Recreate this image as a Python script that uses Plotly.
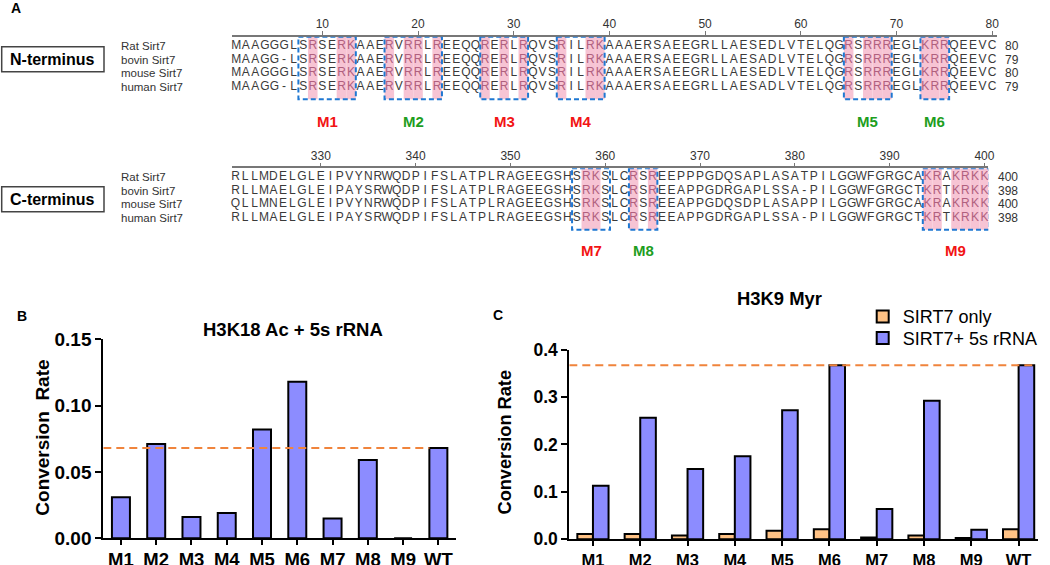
import plotly.graph_objects as go

# ---------------- data ----------------
species = ["Rat Sirt7", "bovin Sirt7", "mouse Sirt7", "human Sirt7"]

n_seqs = [
    "MAAGGGLSRSERKAAERVRRLREEQQRERLRQVSRILRKAAAERSAEEGRLLAESEDLVTELQGRSRRREGLKRRQEEVC",
    "MAAGG-LSRSERKAAERVRRLREEQQRERLRQVSRILRKAAAERSAEEGRLLAESADLVTELQGRSRRREGLKRRQEEVC",
    "MAAGGGLSRSERKAAERVRRLREEQQRERLRQVSRILRKAAAERSAEEGRLLAESEDLVTELQGRSRRREGLKRRQEEVC",
    "MAAGG-LSRSERKAAERVRRLREEQQRERLRQVSRILRKAAAERSAEEGRLLAESADLVTELQGRSRRREGLKRRQEEVC",
]
n_end_numbers = [80, 79, 80, 79]
n_first_residue = 1
n_ruler_ticks = [10, 20, 30, 40, 50, 60, 70, 80]
n_pink = [9, 12, 13, 17, 19, 20, 22, 27, 29, 31, 35, 38, 39, 65, 67, 68, 69, 73, 74, 75]

c_seqs = [
    "RLLMDELGLEIPVYNRWQDPIFSLATPLRAGEEGSHSRKSLCRSREEPPPGDQSAPLASATPILGGWFGRGCAKRAKRKK",
    "RLLMAELGLEIPAYSRWQDPIFSLATPLRAGEEGSHSRKSLCRSREEAPPGDRGAPLSSA-PILGGWFGRGCTKRTKRKK",
    "QLLMNELGLEIPVYNRWQDPIFSLATPLRAGEEGSHSRKSLCRSREEAPPGDQSDPLASAPPILGGWFGRGCAKRAKRKK",
    "RLLMAELGLEIPAYSRWQDPIFSLATPLRAGEEGSHSRKSLCRSREEAPPGDRGAPLSSA-PILGGWFGRGCTKRTKRKK",
]
c_end_numbers = [400, 398, 400, 398]
c_first_residue = 321
c_ruler_ticks = [330, 340, 350, 360, 370, 380, 390, 400]
c_pink = [358, 359, 363, 365, 394, 395, 397, 398, 399, 400]

motif_names = ["M1", "M2", "M3", "M4", "M5", "M6", "M7", "M8", "M9"]
motif_start = [8, 17, 27, 35, 65, 73, 357, 363, 394]
motif_end = [13, 22, 31, 39, 69, 75, 360, 365, 400]
motif_group = ["red", "green", "red", "red", "green", "green", "red", "green", "red"]
motif_panel = ["N", "N", "N", "N", "N", "N", "C", "C", "C"]

categories = ["M1", "M2", "M3", "M4", "M5", "M6", "M7", "M8", "M9", "WT"]
h3k18_rrna = [0.031, 0.071, 0.016, 0.019, 0.082, 0.118, 0.015, 0.059, 0.0, 0.068]
h3k9_only = [0.011, 0.011, 0.008, 0.011, 0.018, 0.021, 0.004, 0.008, 0.003, 0.021]
h3k9_rrna = [0.113, 0.256, 0.148, 0.175, 0.272, 0.367, 0.064, 0.292, 0.020, 0.367]

for s in n_seqs + c_seqs:
    assert len(s) == 80, (s, len(s))

# ---------------- style ----------------
W, H = 1050, 565
FONT = "Arial, Liberation Sans, sans-serif"
SEQ_TXT = "#3a3a3a"
PINK_TXT = "#b0607e"
PINK_BG = "#f7c4d4"
BOX_BLUE = "#1f78d2"
RED = "#f21414"
GREEN = "#1e9e1e"
BAR_BLUE = "#8c8cff"
BAR_ORANGE = "#ffc285"
REF_ORANGE = "#f0843c"
MOTIF_COL = {"red": RED, "green": GREEN}


def px_x(p):
    return p / W


def px_y(p):
    return 1 - p / H


def note(text, x, y, xref="paper", yref="paper", size=12, color="black", bold=False,
         xanchor="center", yanchor="middle", angle=0):
    font = dict(size=size, color=color, family=FONT)
    if bold:
        font["weight"] = "bold"
    return dict(text=text, x=x, y=y, xref=xref, yref=yref, showarrow=False, font=font,
                xanchor=xanchor, yanchor=yanchor, textangle=angle)


fig = go.Figure()


def seq_trace(seqs, first, pink, xa, ya):
    xs, ys, ts, cs = [], [], [], []
    for r, s in enumerate(seqs):
        for i, ch in enumerate(s):
            pos = first + i
            xs.append(pos)
            ys.append(r)
            ts.append(ch)
            cs.append(PINK_TXT if pos in pink else SEQ_TXT)
    return go.Scatter(
        x=xs, y=ys, text=ts, mode="text",
        textfont=dict(size=12, color=cs, family=FONT),
        textposition="middle center",
        xaxis=xa, yaxis=ya, hoverinfo="skip", showlegend=False,
        cliponaxis=False,
    )


fig.add_trace(seq_trace(n_seqs, n_first_residue, n_pink, "x", "y"))
fig.add_trace(seq_trace(c_seqs, c_first_residue, c_pink, "x2", "y2"))

# bar charts
fig.add_trace(go.Bar(
    x=categories, y=h3k18_rrna, width=0.51, name="SIRT7+ 5s rRNA",
    marker=dict(color=BAR_BLUE, line=dict(color="black", width=2)),
    xaxis="x3", yaxis="y3", showlegend=False,
))
fig.add_trace(go.Bar(
    x=categories, y=h3k9_only, width=0.33, offset=-0.33, name="SIRT7 only",
    marker=dict(color=BAR_ORANGE, line=dict(color="black", width=2)),
    xaxis="x4", yaxis="y4", legend="legend",
))
fig.add_trace(go.Bar(
    x=categories, y=h3k9_rrna, width=0.33, offset=0.0, name="SIRT7+ 5s rRNA",
    marker=dict(color=BAR_BLUE, line=dict(color="black", width=2)),
    xaxis="x4", yaxis="y4", legend="legend2",
))

shapes = []
annotations = []

# alignment geometry (row units)
N_TOP, N_BOT, N_LAB = -0.649, 3.86, 5.48
C_TOP, C_BOT, C_LAB = -0.606, 3.83, 5.35

for p in n_pink:
    shapes.append(dict(type="rect", xref="x", yref="y", x0=p - 0.5, x1=p + 0.5,
                       y0=N_TOP, y1=N_BOT, fillcolor=PINK_BG, line=dict(width=0), layer="below"))
for p in c_pink:
    shapes.append(dict(type="rect", xref="x2", yref="y2", x0=p - 0.5, x1=p + 0.5,
                       y0=C_TOP, y1=C_BOT, fillcolor=PINK_BG, line=dict(width=0), layer="below"))

for name, s, e, g, panel in zip(motif_names, motif_start, motif_end, motif_group, motif_panel):
    xr, yr = ("x", "y") if panel == "N" else ("x2", "y2")
    top, bot, lab = (N_TOP, N_BOT, N_LAB) if panel == "N" else (C_TOP, C_BOT, C_LAB)
    shapes.append(dict(type="rect", xref=xr, yref=yr, x0=s - 0.5, x1=e + 0.5, y0=top, y1=bot,
                       line=dict(color=BOX_BLUE, width=2, dash="5px,3px"),
                       fillcolor="rgba(0,0,0,0)", layer="above"))
    annotations.append(note(name, (s + e) / 2, lab, xref=xr, yref=yr, size=15,
                            color=MOTIF_COL[g], bold=True))

# species labels and end numbers
for r, sp in enumerate(species):
    for yr in ("y", "y2"):
        annotations.append(note(sp, px_x(119), r, yref=yr, size=11.5, color="#333",
                                xanchor="left"))
    annotations.append(note(str(n_end_numbers[r]), px_x(1011.7), r, yref="y", size=12, color="#333"))
    annotations.append(note(str(c_end_numbers[r]), px_x(1008), r, yref="y2", size=12, color="#333"))

# terminus boxes
for label, y0, y1 in (("N-terminus", 46.7, 71.7), ("C-terminus", 186.7, 211.7)):
    shapes.append(dict(type="rect", xref="paper", yref="paper", x0=px_x(1.7), x1=px_x(104),
                       y0=px_y(y1), y1=px_y(y0), line=dict(color="#444", width=1.5)))
    annotations.append(note(label, px_x(52.5), px_y((y0 + y1) / 2), size=16, bold=True))

# panel letters
for t, x, y in (("A", 16, 8), ("B", 22, 315.5), ("C", 497.5, 315)):
    annotations.append(note(t, px_x(x), px_y(y), size=14, bold=True))

# bar panel titles and y titles
annotations.append(note("H3K18 Ac + 5s rRNA", px_x(292.5), px_y(329), size=18.5, bold=True))
annotations.append(note("H3K9 Myr", px_x(779), px_y(298), size=18.4, bold=True))
annotations.append(note("Conversion\u00a0 Rate", px_x(41.7), px_y(438), size=19, bold=True, angle=-90))
annotations.append(note("Conversion Rate", px_x(504), px_y(442.5), size=18.2, bold=True, angle=-90))

# WT reference lines
shapes.append(dict(type="line", xref="x3", yref="y3", x0=-0.5, x1=9 - 0.51 / 2,
                   y0=h3k18_rrna[-1], y1=h3k18_rrna[-1],
                   line=dict(color=REF_ORANGE, width=2, dash="8px,5px")))
shapes.append(dict(type="line", xref="x4", yref="y4", x0=-0.5, x1=9 + 0.33,
                   y0=h3k9_rrna[-1], y1=h3k9_rrna[-1],
                   line=dict(color=REF_ORANGE, width=2, dash="8px,5px")))

ruler_axis = dict(side="top", showline=True, linecolor="#777", linewidth=1.5, ticks="outside",
                  ticklen=4, tickwidth=1, tickcolor="#777", showgrid=False, zeroline=False,
                  tickfont=dict(size=12, color="#333", family=FONT), fixedrange=True,
                  automargin=False, ticklabelstandoff=-2)
bar_xaxis = dict(type="category", showline=True, linecolor="black", linewidth=2, ticks="outside",
                 ticklen=5, tickwidth=2, tickcolor="black", showgrid=False, zeroline=False,
                 fixedrange=True, automargin=False)
bar_yaxis = dict(showline=True, linecolor="black", linewidth=2, ticks="outside", ticklen=6,
                 tickwidth=2, tickcolor="black", showgrid=False, zeroline=False, fixedrange=True,
                 automargin=False)

fig.update_layout(
    width=W, height=H, autosize=False,
    margin=dict(l=0, r=0, t=0, b=0, pad=0, autoexpand=False),
    paper_bgcolor="white", plot_bgcolor="rgba(0,0,0,0)",
    font=dict(family=FONT, color="black"),
    barmode="overlay",
    xaxis=dict(ruler_axis, domain=[px_x(232), px_x(996.7)], range=[0.561, 80.47],
               tickvals=n_ruler_ticks, anchor="y"),
    yaxis=dict(domain=[px_y(135), px_y(36.7)], range=[6.438, -0.649], visible=False,
               anchor="x", fixedrange=True),
    xaxis2=dict(ruler_axis, domain=[px_x(232.3), px_x(988.3)], range=[320.66, 400.41],
                tickvals=c_ruler_ticks, anchor="y2"),
    yaxis2=dict(domain=[px_y(265), px_y(168.3)], range=[6.366, -0.606], visible=False,
                anchor="x2", fixedrange=True),
    xaxis3=dict(bar_xaxis, domain=[px_x(103.3), px_x(456)], range=[-0.5, 9.5], anchor="y3",
                ticklabelstandoff=-2,
                tickfont=dict(size=18.5, family=FONT, color="black", weight="bold")),
    yaxis3=dict(bar_yaxis, domain=[px_y(538.3), px_y(339.3)], range=[0, 0.15], anchor="x3",
                tickvals=[0, 0.05, 0.10, 0.15], tickformat=".2f",
                tickfont=dict(size=19, family=FONT, color="black", weight="bold")),
    xaxis4=dict(bar_xaxis, domain=[px_x(569.3), px_x(1038)], range=[-0.5, 9.41], anchor="y4",
                tickfont=dict(size=16.5, family=FONT, color="black", weight="bold")),
    yaxis4=dict(bar_yaxis, domain=[px_y(539.3), px_y(349.5)], range=[0, 0.4], anchor="x4",
                tickvals=[0, 0.1, 0.2, 0.3, 0.4], tickformat=".1f",
                tickfont=dict(size=17.5, family=FONT, color="black", weight="bold")),
    legend=dict(x=px_x(862.7), y=px_y(316.7), xanchor="left", yanchor="middle",
                font=dict(size=18, family=FONT, color="black"), bgcolor="rgba(0,0,0,0)"),
    legend2=dict(x=px_x(862.7), y=px_y(338.3), xanchor="left", yanchor="middle",
                 font=dict(size=18, family=FONT, color="black"), bgcolor="rgba(0,0,0,0)"),
    shapes=shapes,
    annotations=annotations,
)

fig.write_html(
    "out.html", include_plotlyjs=True, config={"displayModeBar": False},
    post_script="document.body.style.margin='0';document.body.style.overflow='hidden';",
)
